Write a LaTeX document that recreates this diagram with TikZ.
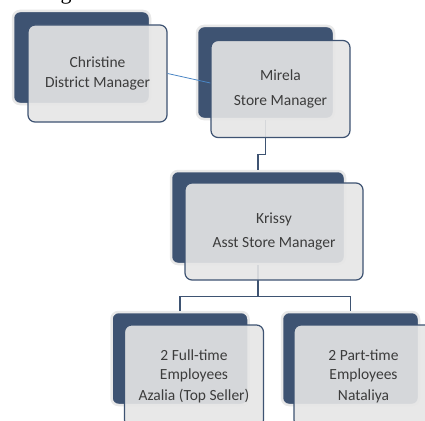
\documentclass[tikz,border=0pt]{standalone}
\usepackage{fontspec}
\setmainfont{Carlito}
\newfontfamily\titlefont{Liberation Serif}
\definecolor{slate}{HTML}{3E5372}
\definecolor{frontgray}{HTML}{E6E6E6}
\definecolor{txtgray}{HTML}{3C3C3C}
\definecolor{linkblue}{HTML}{4A86C5}
\tikzset{
  backbox/.style={draw=gray!18,line width=2.5pt,fill=slate,rounded corners=7pt,
    minimum width=137pt,minimum height=93pt},
  frontbox/.style={draw=slate,line width=1.2pt,fill=frontgray,fill opacity=0.9,
    text opacity=1,rounded corners=7pt,minimum width=139pt,minimum height=97pt,
    align=center,text=txtgray,font=\fontsize{15.5}{19.5}\selectfont},
  elbow/.style={draw=slate,line width=1.3pt},
}

\begin{document}
\begin{tikzpicture}[x=1pt,y=-1pt]
\useasboundingbox[fill=white] (0,0) rectangle (425,420);
% cut title letter
\node[anchor=base,inner sep=0pt,font=\titlefont\fontsize{22}{22}\selectfont] (ttl) at (66,0) {g};
% back boxes
\node[backbox] (cb) at (81.5,57.5) {};
\node[backbox] (mb) at (265.5,72.5) {};
\node[backbox,minimum width=174pt] (kb) at (258,217.5) {};
\node[backbox] (fb) at (180,358.5) {};
\node[backbox] (pb) at (350.5,358.5) {};
% connectors
\draw[elbow] (mb.south) -- ++(0,34) -| (kb.north);
\draw[elbow] (kb.south) -- ++(0,31) -| (fb.north);
\draw[elbow] (kb.south) -- ++(0,31) -| (pb.north);
% front boxes
\node[frontbox] (cf) at (97.5,73.5) {Christine\\District Manager};
\node[frontbox] (mf) at (280.5,89) {Mirela\\[6pt]Store Manager};
\node[frontbox,minimum width=178pt] (kf) at (274,231.5) {Krissy\\[5pt]Asst Store Manager};
\node[frontbox,minimum height=102pt] (ff) at (194,376) {2 Full-time\\Employees\\[1pt]Azalia (Top Seller)};
\node[frontbox,minimum height=102pt] (pf) at (363.5,376) {2 Part-time\\Employees\\[1pt]Nataliya};
\draw[linkblue,line width=0.8pt] (cf.east) -- ([yshift=6pt]mf.west);
\end{tikzpicture}
\end{document}
